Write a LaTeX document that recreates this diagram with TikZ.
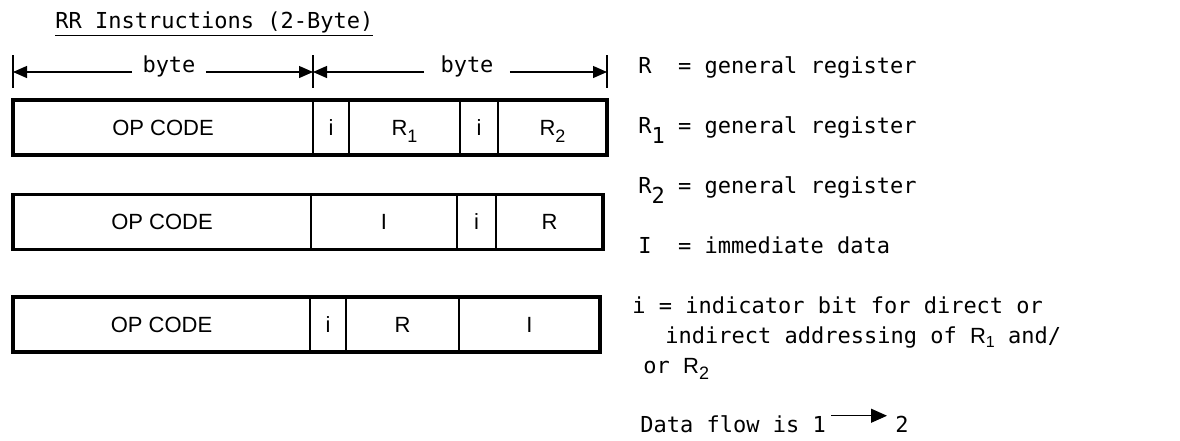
\documentclass[tikz,border=0pt]{standalone}
\usepackage{fontspec}
\setmainfont{Liberation Sans}
\newfontfamily\typefont{DejaVu Sans Mono}
\usetikzlibrary{arrows.meta, positioning}
\newcommand{\lowsub}[2][3.5pt]{\raisebox{-#1}[0pt][0pt]{#2}}

\begin{document}
\begin{tikzpicture}[
  x=0.5pt, y=-0.5pt,
  cell/.style={draw, line width=1pt, minimum height=27.5pt, inner sep=0pt, outer sep=0pt,
    font=\fontsize{11}{13}\selectfont},
  frame/.style={line width=1.7pt},
  dimline/.style={line width=0.6pt, -{Triangle[length=7pt, width=6pt]}},
  tick/.style={line width=0.6pt},
  bytelbl/.style={anchor=base, inner xsep=5pt, inner ysep=0pt, font=\typefont\fontsize{11}{13}\selectfont},
  note/.style={anchor=base west, inner sep=0pt, font=\typefont\fontsize{11}{13}\selectfont},
]
\useasboundingbox (0,0) rectangle (1180,440);

% title
\node[note] (title) at (55,28) {\underline{RR Instructions (2-Byte)}};

% byte widths
\coordinate (d0) at (13,72);
\coordinate (d1) at (313,72);
\coordinate (d2) at (607,72);
\foreach \d in {d0,d1,d2}
  \draw[tick] (\d) ++(0,-17) -- ++(0,33);
\node[bytelbl] (byte1) at (169,72) {byte};
\node[bytelbl, inner xsep=8pt] (byte2) at (467,72) {byte};
\draw[dimline] (byte1.base west) -- (d0);
\draw[dimline] (byte1.base east) -- (d1);
\draw[dimline] (byte2.base west) -- (d1);
\draw[dimline] (byte2.base east) -- (d2);

% format 1
\node[cell, minimum width=150pt] (op1) at (163,127.5) {OP CODE};
\node[cell, minimum width=18pt, right=0pt of op1] (ia1) {i};
\node[cell, minimum width=55.5pt, right=0pt of ia1] (ra1) {R\lowsub{\small 1}};
\node[cell, minimum width=19pt, right=0pt of ra1] (ib1) {i};
\node[cell, minimum width=54.5pt, right=0pt of ib1] (rb1) {R\lowsub{\small 2}};
\draw[frame] (op1.north west) rectangle (rb1.south east);

% format 2
\node[cell, minimum width=149pt] (op2) at (162,222) {OP CODE};
\node[cell, minimum width=73pt, right=0pt of op2] (im2) {I};
\node[cell, minimum width=19.5pt, right=0pt of im2] (ia2) {i};
\node[cell, minimum width=53.5pt, right=0pt of ia2] (ra2) {R};
\draw[frame] (op2.north west) rectangle (ra2.south east);

% format 3
\node[cell, minimum width=148.5pt] (op3) at (161.5,324.5) {OP CODE};
\node[cell, minimum width=18pt, right=0pt of op3] (ia3) {i};
\node[cell, minimum width=56.5pt, right=0pt of ia3] (ra3) {R};
\node[cell, minimum width=70.5pt, right=0pt of ra3] (im3) {I};
\draw[frame] (op3.north west) rectangle (im3.south east);

% legend
\node[note] (keyr) at (638,73) {R\ \ = general register};
\node[note] (keyra) at (638,133) {R\lowsub[5pt]{1} = general register};
\node[note] (keyrb) at (638,193) {R\lowsub[5pt]{2} = general register};
\node[note] (keyim) at (638,253) {I\ \ = immediate data};
\node[note] (keyi) at (632,313) {i = indicator bit for direct or};
\node[note] (keyi2) at (665,343) {indirect addressing of {\rmfamily R\lowsub[2pt]{\footnotesize 1}} and/};
\node[note] (keyi3) at (643,373) {or {\rmfamily R\lowsub[3pt]{\small 2}}};
\node[note] (flow1) at (640,432) {Data flow is 1};
\node[note] (flow2) at (895,432) {2};
\draw[line width=0.6pt, -{Triangle[length=8pt, width=7pt]}] (flow1.east) ++(5,-8) coordinate (fa)
  (fa) -- ([xshift=-4pt]fa -| flow2.west) coordinate (fb);
\end{tikzpicture}
\end{document}
